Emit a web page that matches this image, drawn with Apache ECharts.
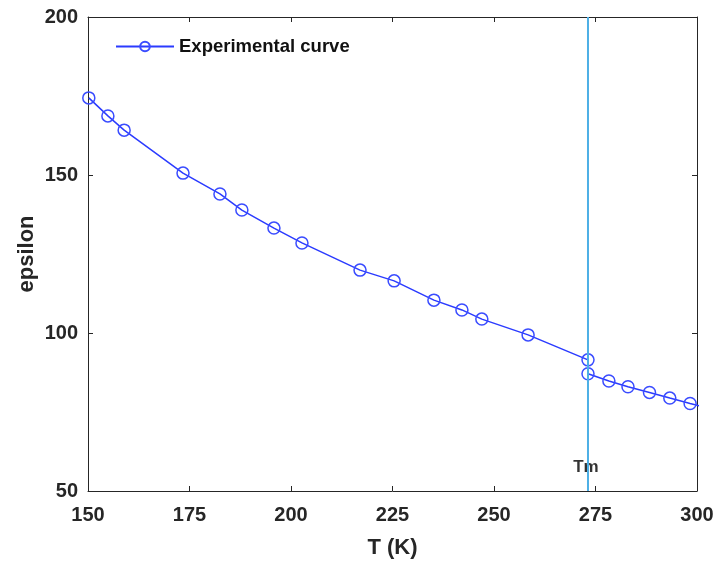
<!DOCTYPE html>
<html>
<head>
<meta charset="utf-8">
<script src="https://cdn.jsdelivr.net/npm/echarts@6/dist/echarts.min.js"></script>
<style>html,body{margin:0;padding:0;background:#fff}#c{width:721px;height:565px}</style>
</head>
<body>
<div id="c"></div>
<script>
const temperatures = [150.2, 154.9, 158.9, 173.4, 182.5, 187.9, 195.8, 202.7, 217.0, 225.4, 235.2, 242.1, 247.0, 258.4, 273.15, 273.15, 278.3, 283.0, 288.3, 293.3, 298.3, 303.4];
const epsilonValues = [174.4, 168.7, 164.2, 150.6, 144.0, 138.9, 133.2, 128.5, 119.9, 116.5, 110.4, 107.3, 104.4, 99.4, 91.5, 87.1, 84.8, 83.0, 81.2, 79.4, 77.7, 76.0];
const seriesName = 'Experimental curve';
const meltingPoint = 273.15;
const meltingLabel = 'Tm';
const xTicks = [150, 175, 200, 225, 250, 275, 300];
const yTicks = [50, 100, 150, 200];

const axisColor = '#262626';
const font = 'Liberation Sans, Arial, sans-serif';
const chart = echarts.init(document.getElementById('c'));

function boxAxis(pos, isX) {
  return {
    type: 'value', position: pos,
    min: isX ? xTicks[0] : yTicks[0],
    max: isX ? xTicks[xTicks.length-1] : yTicks[yTicks.length-1],
    interval: isX ? 25 : 50,
    axisLine: {show: true, onZero: false, lineStyle: {color: axisColor, width: 1}},
    axisTick: {show: true, inside: true, length: 5, lineStyle: {color: axisColor}},
    axisLabel: {show: false},
    splitLine: {show: false}
  };
}

const xs = temperatures.map((t, i) => [t, epsilonValues[i]]);

chart.setOption({
  animation: false,
  backgroundColor: '#fff',
  grid: {left: 88, right: 24, top: 17, bottom: 74, containLabel: false},
  legend: {
    left: 110, top: 32,
    itemWidth: 58, itemHeight: 12, itemGap: 10,
    textStyle: {fontFamily: font, fontWeight: 'bold', fontSize: 18.5, color: '#111'},
    data: [seriesName]
  },
  xAxis: [
    Object.assign(boxAxis('bottom', true), {
      name: 'T (K)', nameLocation: 'middle', nameGap: 46, nameMoveOverlap: false,
      nameTextStyle: {fontFamily: font, fontWeight: 'bold', fontSize: 22, color: axisColor},
      axisLabel: {show: true, margin: 14, fontFamily: font, fontWeight: 'bold', fontSize: 20, color: axisColor}
    }),
    boxAxis('top', true)
  ],
  yAxis: [
    Object.assign(boxAxis('left', false), {
      name: 'epsilon', nameLocation: 'middle', nameGap: 50, nameMoveOverlap: false,
      nameTextStyle: {fontFamily: font, fontWeight: 'bold', fontSize: 22, color: axisColor},
      axisLabel: {show: true, margin: 10, fontFamily: font, fontWeight: 'bold', fontSize: 20, color: axisColor}
    }),
    boxAxis('right', false)
  ],
  series: [
    {
      name: seriesName, type: 'line', data: xs, clip: true,
      symbol: 'circle', symbolSize: 12, showAllSymbol: true,
      lineStyle: {color: '#2b3bff', width: 1.5},
      itemStyle: {color: 'rgba(255,255,255,0)', borderColor: '#3a4cff', borderWidth: 1.5},
      z: 3
    },
    {
      name: 'Tm line', type: 'line',
      data: [[meltingPoint, yTicks[0]], [meltingPoint, yTicks[yTicks.length-1]]],
      symbol: 'none', lineStyle: {color: '#4db0e6', width: 2}, z: 4, silent: true
    },
    {
      name: 'Tm label', type: 'scatter',
      data: [[meltingPoint, 57.5]], symbolSize: 0, silent: true, z: 3,
      label: {show: true, position: 'inside', offset: [-2, 0], formatter: meltingLabel,
        fontFamily: font, fontWeight: 'bold', fontSize: 17, color: '#000',
        textBorderWidth: 0, textBorderColor: 'transparent'}
    }
  ]
});
</script>
</body>
</html>
